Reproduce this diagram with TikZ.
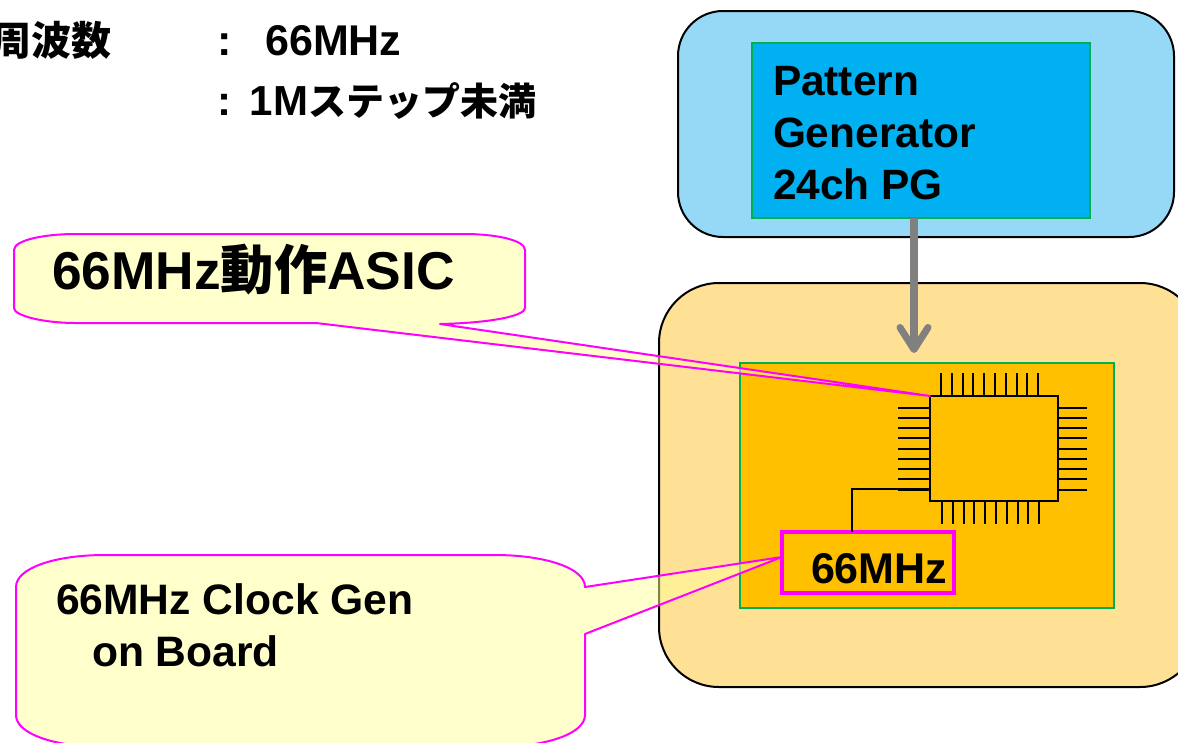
\documentclass[tikz,border=0pt]{standalone}
\usepackage{fontspec}
\setmainfont{Liberation Sans}[BoldFont={Liberation Sans Bold}]
\newfontfamily\cjk{Noto Sans CJK JP Medium}
\usetikzlibrary{arrows.meta}
\definecolor{pgfill}{HTML}{00B0F0}
\definecolor{pgouter}{HTML}{96D9F6}
\definecolor{brdouter}{HTML}{FFE196}
\definecolor{brdfill}{HTML}{FFC000}
\definecolor{grn}{HTML}{00B050}
\definecolor{pink}{HTML}{FF00FF}
\definecolor{calloutfill}{HTML}{FFFF99}
\definecolor{arrowgray}{HTML}{808080}
\newcommand{\fs}[2]{\fontsize{#1}{#2}\selectfont\bfseries}
\tikzset{
  outerbox/.style={draw=black,line width=2pt,rounded corners=#1},
  greenbox/.style={draw=grn,line width=2.4pt,anchor=north west,inner sep=0pt,outer sep=0pt},
  label/.style={anchor=base west,inner sep=0pt,outer sep=0pt,text=black},
  multilabel/.style={anchor=north west,align=left,inner sep=0pt,outer sep=0pt,text=black},
  callout/.style={draw=pink,line width=2pt,line join=round,fill=calloutfill,fill opacity=.5,draw opacity=1},
  pin/.style={draw=black,line width=2pt},
}
\begin{document}
\begin{tikzpicture}[x=1pt,y=-1pt]
\clip (0,0) rectangle (1178,742);
\fill[white] (0,0) rectangle (1178,742);
% outer boxes
\draw[outerbox=45pt,fill=pgouter] (678,11) rectangle (1174,237);
\draw[outerbox=60pt,fill=brdouter] (659,283) rectangle (1200,687);
% pattern generator
\node[greenbox,fill=pgfill,minimum width=338pt,minimum height=175pt] (pg) at (752,43) {};
\node[multilabel,font=\fs{42.4}{52}] (pgtext) at (773,66) {Pattern\\Generator\\24ch PG};
% board
\node[greenbox,fill=brdfill,minimum width=374pt,minimum height=245pt] (board) at (740,363) {};
% arrow
\coordinate (arrowtip) at (914,353);
\draw[arrowgray,line width=8pt,-{Straight Barb[length=22pt,width=28pt,line width=7pt,line cap=round,round]}] (pg.south -| arrowtip) -- (arrowtip);
% chip
\node[draw=black,line width=2.4pt,anchor=north west,inner sep=0pt,outer sep=0pt,minimum width=128pt,minimum height=105pt] (asic) at (930,396) {};
\foreach \x in {941,952,963,973,984,995,1006,1017,1027,1038}{
  \draw[pin] (\x,373) -- (\x,396);
  \draw[pin] (\x+1,501) -- (\x+1,524);
}
\foreach \y in {408,418,428,438,449,459,469,479,490}{
  \draw[pin] (898,\y) -- (930,\y);
  \draw[pin] (1058,\y) -- (1087,\y);
}
% clock
\node[draw=pink,line width=3.5pt,fill=brdfill,anchor=north west,inner sep=0pt,outer sep=0pt,minimum width=172pt,minimum height=61pt] (clock) at (782,532) {};
\node[label,font=\fs{43}{50}] (clocktext) at (811,583) {66MHz};
\coordinate (wirecorner) at (852,489);
\draw[black,line width=1.6pt] (clock.north -| wirecorner) -- (wirecorner) -- (wirecorner -| asic.west);
% callout 1
\draw[callout] (14,250)
  .. controls (14,240) and (45,234) .. (75,234) -- (465,234)
  .. controls (495,234) and (525,240) .. (525,250) -- (525,308)
  .. controls (525,316) and (490,323) .. (440,324)
  -- (asic.north west) -- (316,323) -- (75,323)
  .. controls (45,323) and (14,316) .. (14,308) -- cycle;
\node[label,font=\fs{53.3}{60}] (asiclabel) at (52,289) {66MHz{\cjk 動作}ASIC};
% callout 2
\coordinate (clocktip) at (782,557);
\draw[callout] (16,587)
  .. controls (16,568) and (55,555) .. (105,555) -- (495,555)
  .. controls (545,555) and (585,568) .. (585,587)
  -- (clocktip) -- (585,634) -- (585,715)
  .. controls (585,734) and (545,747) .. (495,747) -- (105,747)
  .. controls (55,747) and (16,734) .. (16,715) -- cycle;
\node[multilabel,font=\fs{42.6}{52}] (clklabel) at (56,584) {66MHz Clock Gen\\\hspace*{36pt}on Board};
% top text
\node[label,anchor=base east,font=\fs{40}{48}] (freqlabel) at (111,55) {\cjk 周波数};
\node[label,font=\fs{43}{50}] (freqval) at (217,55) {:\hspace{34pt}66MHz};
\node[label,font=\fs{42}{50}] (stepval) at (217,115) {:\hspace{19pt}1M{\cjk\fontsize{38}{48}\selectfont ステップ未満}};
\end{tikzpicture}
\end{document}
